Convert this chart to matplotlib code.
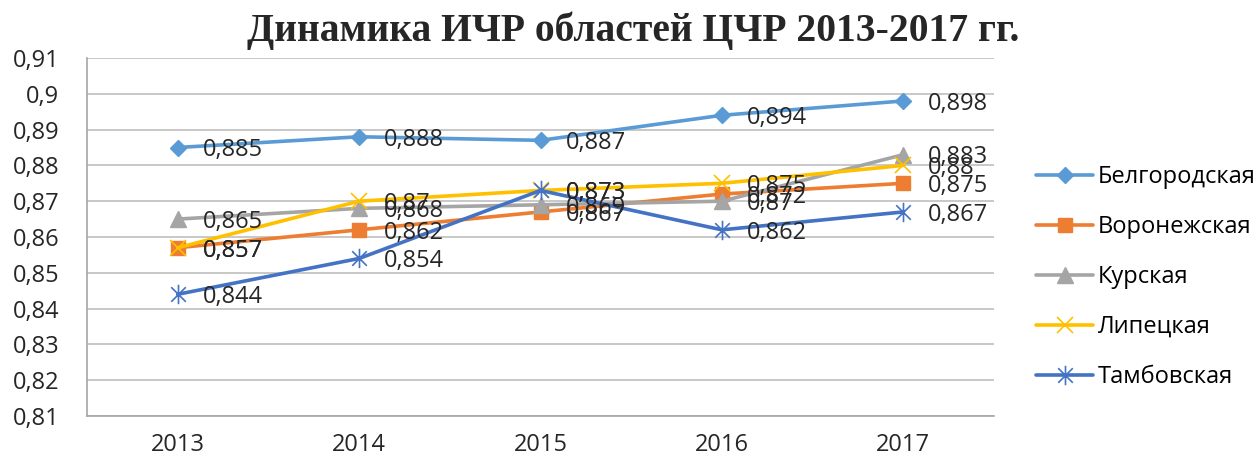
import matplotlib
matplotlib.use("Agg")
import matplotlib.pyplot as plt
from matplotlib.path import Path
from matplotlib.ticker import FuncFormatter, MultipleLocator

years = ["2013", "2014", "2015", "2016", "2017"]
belgorod = [0.885, 0.888, 0.887, 0.894, 0.898]
voronezh = [0.857, 0.862, 0.867, 0.872, 0.875]
kursk = [0.865, 0.868, 0.869, 0.870, 0.883]
lipetsk = [0.857, 0.870, 0.873, 0.875, 0.880]
tambov = [0.844, 0.854, 0.873, 0.862, 0.867]
names = ["Белгородская", "Воронежская", "Курская", "Липецкая", "Тамбовская"]
title = "Динамика ИЧР областей ЦЧР 2013-2017 гг."

star = Path([(0, -1), (0, 1), (-0.75, -0.75), (0.75, 0.75), (-0.75, 0.75), (0.75, -0.75)],
            [Path.MOVETO, Path.LINETO, Path.MOVETO, Path.LINETO, Path.MOVETO, Path.LINETO])

styles = [
    dict(color="#5B9BD5", marker="D", ms=8, mew=1),
    dict(color="#ED7D31", marker="s", ms=10, mew=1),
    dict(color="#A5A5A5", marker="^", ms=11, mew=1),
    dict(color="#FFC000", marker="x", ms=11, mew=1.2),
    dict(color="#4472C4", marker=star, ms=14, mew=1.2),
]

FONT = "Open Sans"
FS = 17

fig = plt.figure(figsize=(12.59, 4.62), dpi=100)
ax = fig.add_axes([87 / 1259, 46 / 462, (994 - 87) / 1259, (416 - 58) / 462])

x = list(range(len(years)))
series = [belgorod, voronezh, kursk, lipetsk, tambov]


def fmt(v):
    return f"{v:.3f}".rstrip("0").rstrip(".").replace(".", ",")


for name, vals, st in zip(names, series, styles):
    ax.plot(x, vals, color=st["color"], lw=2.6, marker=st["marker"], ms=st["ms"],
            mec=st["color"], mfc=st["color"], mew=st["mew"], label=name,
            solid_capstyle="round", zorder=3)

for vals in series:
    for xi, v in zip(x, vals):
        ax.annotate(fmt(v), (xi, v), xytext=(18, -2), textcoords="offset points",
                    ha="left", va="center", fontsize=FS, family=FONT,
                    color="#262626", zorder=5)

ax.set_xlim(-0.5, len(years) - 0.5)
ax.set_ylim(0.81, 0.91)
ax.yaxis.set_major_locator(MultipleLocator(0.01))
ax.yaxis.set_major_formatter(FuncFormatter(lambda v, p: f"{v:.2f}".rstrip("0").replace(".", ",")))
ax.set_xticks(x)
ax.set_xticklabels(years)
ax.grid(axis="y", color="#BFBFBF", lw=1.2, zorder=0)
ax.set_axisbelow(True)
for s in ["top", "right"]:
    ax.spines[s].set_visible(False)
for s in ["left", "bottom"]:
    ax.spines[s].set_color("#A6A6A6")
    ax.spines[s].set_linewidth(1.2)
ax.tick_params(axis="both", length=0, labelsize=FS, colors="#262626")
ax.tick_params(axis="y", pad=20)
ax.tick_params(axis="x", pad=12)
for lab in ax.get_xticklabels() + ax.get_yticklabels():
    lab.set_family(FONT)

fig.text(633 / 1259, 1 - 31 / 462, title, ha="center", va="center",
         fontsize=28.5, fontweight="bold", family="Liberation Serif", color="#262626")

fig.legend(loc="center left", bbox_to_anchor=(1027 / 1259, 1 - 277 / 462),
           frameon=False, prop=dict(family=FONT, size=FS), handlelength=2.4,
           handletextpad=0.2, labelspacing=1.1, borderaxespad=0)

fig.savefig("out.png", dpi=100)
